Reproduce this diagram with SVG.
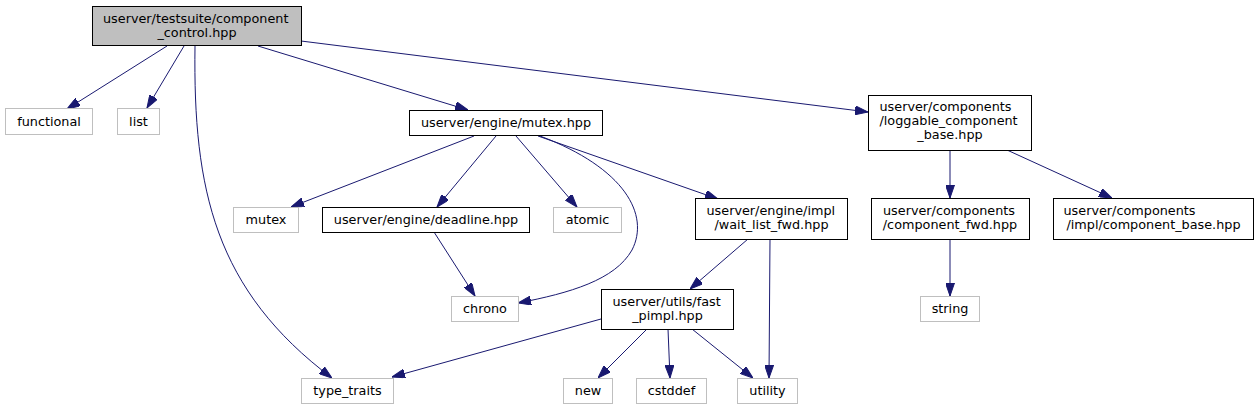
<svg xmlns="http://www.w3.org/2000/svg" width="1257" height="409" viewBox="0 0 1257 409">
<style>
  .bg { fill: #ffffff; }
  .doc rect { fill: #ffffff; stroke: #000000; stroke-width: 1; }
  .root rect { fill: #bfbfbf; stroke: #000000; stroke-width: 1; }
  .ext rect { fill: #ffffff; stroke: #bfbfbf; stroke-width: 1; }
  text { font-family: "DejaVu Sans", "Liberation Sans", sans-serif; font-size: 12.8px; fill: #000000; }
  .c { text-anchor: middle; }
  .l { text-anchor: start; }
  .edges path { fill: none; stroke: #191970; stroke-width: 1; }
</style>
<defs>
  <marker id="arr" viewBox="0 0 13 9" refX="13" refY="4.5" markerWidth="13" markerHeight="9" markerUnits="userSpaceOnUse" orient="auto">
    <path d="M0,0 L13,4.5 L0,9 z" fill="#191970" stroke="#191970" stroke-width="1"/>
  </marker>
</defs>
<rect class="bg" x="0" y="0" width="1257" height="409"/>

<g class="edges" id="edges">
  <path marker-end="url(#arr)" d="M167,46 L67,109"/>
  <path marker-end="url(#arr)" d="M184,46 L147,108"/>
  <path marker-end="url(#arr)" d="M195,46 C193,190 215,290 332,378"/>
  <path marker-end="url(#arr)" d="M258,46 L468,110"/>
  <path marker-end="url(#arr)" d="M301,41 L868,112"/>
  <path marker-end="url(#arr)" d="M474,136 L291,207"/>
  <path marker-end="url(#arr)" d="M496,136 L437,207"/>
  <path marker-end="url(#arr)" d="M516,136 L577,207"/>
  <path marker-end="url(#arr)" d="M540,136 C625,168 650,215 632,250 C615,280 570,293 518,303"/>
  <path marker-end="url(#arr)" d="M538,136 L718,199"/>
  <path marker-end="url(#arr)" d="M434,232 L475,296"/>
  <path marker-end="url(#arr)" d="M748,239 L690,289"/>
  <path marker-end="url(#arr)" d="M770,239 L769,378"/>
  <path marker-end="url(#arr)" d="M601,319 L392,377"/>
  <path marker-end="url(#arr)" d="M647,329 L598,378"/>
  <path marker-end="url(#arr)" d="M668,329 L670,378"/>
  <path marker-end="url(#arr)" d="M692,329 L753,378"/>
  <path marker-end="url(#arr)" d="M950,150 L950,198"/>
  <path marker-end="url(#arr)" d="M1007,150 L1112,198"/>
  <path marker-end="url(#arr)" d="M950,239 L950,296"/>
</g>

<g id="node-root" class="root">
  <rect x="92.5" y="6.5" width="209" height="39"/>
  <text class="l" x="103" y="22.5">userver/testsuite/component</text>
  <text class="c" x="197" y="36.5">_control.hpp</text>
</g>
<g id="node-functional" class="ext">
  <rect x="5.5" y="108.5" width="87" height="26"/>
  <text class="c" x="49" y="126">functional</text>
</g>
<g id="node-list" class="ext">
  <rect x="117.5" y="108.5" width="42" height="26"/>
  <text class="c" x="138.5" y="126">list</text>
</g>
<g id="node-mutex-hpp" class="doc">
  <rect x="409.5" y="110.5" width="193" height="25"/>
  <text class="c" x="506" y="127">userver/engine/mutex.hpp</text>
</g>
<g id="node-loggable" class="doc">
  <rect x="868.5" y="95.5" width="163" height="55"/>
  <text class="l" x="879.5" y="111">userver/components</text>
  <text class="l" x="879.5" y="125">/loggable_component</text>
  <text class="c" x="950" y="139">_base.hpp</text>
</g>
<g id="node-component-fwd" class="doc">
  <rect x="871.5" y="198.5" width="158" height="41"/>
  <text class="l" x="883" y="215">userver/components</text>
  <text class="c" x="950" y="229">/component_fwd.hpp</text>
</g>
<g id="node-component-base" class="doc">
  <rect x="1053.5" y="198.5" width="200" height="41"/>
  <text class="l" x="1063.5" y="215">userver/components</text>
  <text class="c" x="1153.5" y="229">/impl/component_base.hpp</text>
</g>
<g id="node-string" class="ext">
  <rect x="920.5" y="296.5" width="59" height="25"/>
  <text class="c" x="950" y="313">string</text>
</g>
<g id="node-mutex" class="ext">
  <rect x="233.5" y="207.5" width="65" height="25"/>
  <text class="c" x="266" y="224">mutex</text>
</g>
<g id="node-deadline" class="doc">
  <rect x="322.5" y="207.5" width="207" height="25"/>
  <text class="c" x="426" y="224">userver/engine/deadline.hpp</text>
</g>
<g id="node-atomic" class="ext">
  <rect x="553.5" y="207.5" width="68" height="25"/>
  <text class="c" x="587.5" y="224">atomic</text>
</g>
<g id="node-wait-list" class="doc">
  <rect x="695.5" y="198.5" width="152" height="41"/>
  <text class="l" x="706.5" y="215">userver/engine/impl</text>
  <text class="c" x="771.5" y="229">/wait_list_fwd.hpp</text>
</g>
<g id="node-chrono" class="ext">
  <rect x="451.5" y="296.5" width="67" height="25"/>
  <text class="c" x="485" y="313">chrono</text>
</g>
<g id="node-fast-pimpl" class="doc">
  <rect x="601.5" y="289.5" width="132" height="40"/>
  <text class="l" x="612.5" y="305.5">userver/utils/fast</text>
  <text class="c" x="667.5" y="319.5">_pimpl.hpp</text>
</g>
<g id="node-type-traits" class="ext">
  <rect x="301.5" y="378.5" width="92" height="25"/>
  <text class="c" x="347.5" y="395">type_traits</text>
</g>
<g id="node-new" class="ext">
  <rect x="563.5" y="378.5" width="49" height="25"/>
  <text class="c" x="588" y="395">new</text>
</g>
<g id="node-cstddef" class="ext">
  <rect x="636.5" y="378.5" width="70" height="25"/>
  <text class="c" x="671.5" y="395">cstddef</text>
</g>
<g id="node-utility" class="ext">
  <rect x="737.5" y="378.5" width="60" height="25"/>
  <text class="c" x="767.5" y="395">utility</text>
</g>
</svg>
